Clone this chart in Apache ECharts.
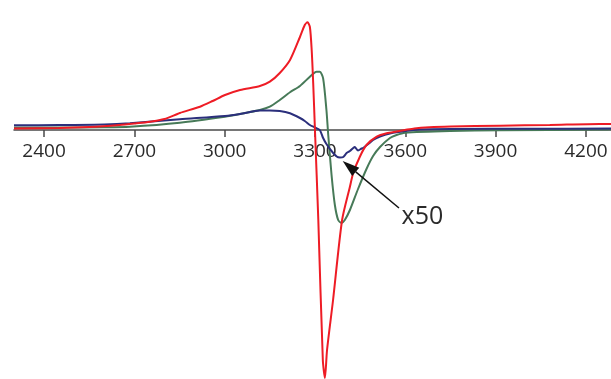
<!DOCTYPE html>
<html>
<head>
<meta charset="utf-8">
<script src="https://cdn.jsdelivr.net/npm/echarts@6/dist/echarts.min.js"></script>
<style>html,body{margin:0;padding:0;background:#fff}#c{width:611px;height:379px}</style>
</head>
<body>
<div id="c"></div>
<script>
// Magnetic field (G) tick labels
const tickLabels = [2400, 2700, 3000, 3300, 3600, 3900, 4200];

// Red spectrum [field, intensity]
const redField = [2300,2450,2550,2650,2700,2752,2800,2851,2918,2960,3001,3051,3117,3150,3183,3217,3250,3266,3275,3283,3289,3294,3300,3311,3326,3333,3340,3360,3390,3416,3427,3449,3471,3505,3538,3571,3599,3630,3680,3750,3914,4080,4246,4300];
const redValue = [1.5,2,3,5,6.5,8.3,11,17,23.3,29,35,40,44,48.3,57,70,93,105,107.7,103,80,47,-1,-90,-230,-248,-220,-170,-90,-56.7,-43,-26.7,-15,-6.7,-3.3,-1.5,0,1.6,2.7,3.4,4.3,5,6,6];

// Green spectrum
const greenField = [2300,2450,2600,2685,2851,3001,3051,3117,3150,3183,3217,3250,3283,3305,3316,3327,3338,3344,3355,3366,3377,3388,3399,3416,3443,3471,3493,3516,3549,3571,3599,3748,3914,4246,4300];
const greenValue = [2.5,2.5,2.7,3.3,7.3,13.3,16,20,23.3,30,37.7,44,53.3,58.3,58.3,51.7,20,-5,-45,-75,-90,-93,-90,-80,-59,-39,-26,-17,-8,-5,-2.7,-1,-0.3,0.5,0.8];

// Blue spectrum (x50)
const blueField = [2300,2450,2600,2685,2851,3001,3051,3117,3150,3183,3217,3250,3266,3283,3300,3316,3327,3338,3355,3372,3383,3394,3405,3416,3427,3432,3443,3455,3460,3477,3493,3516,3549,3599,3648,3750,4000,4300];
const blueValue = [4.7,5,5.5,6.7,10.7,14,16,19.5,19.5,19,16.7,12,9,5,2.5,0,-8,-14,-21,-26.5,-27.5,-27,-23,-21,-18,-17,-20.5,-18.5,-18,-14,-10,-6.5,-3.5,-1,0.5,1,1.2,1.5];

// Annotation (data coordinates)
const annotationText = 'x50';
const arrowFrom = [3579, -78];
const arrowTo = [3392, -31];
const labelAt = [3657, -87];

const zip = (a, b) => a.map((v, i) => [v, b[i]]);

const chart = echarts.init(document.getElementById('c'));
const baseLine = { showSymbol: false, type: 'line', smooth: 0.25, clip: false, animation: false };

chart.setOption({
  animation: false,
  grid: { left: 14, width: 602, top: 0, height: 130, containLabel: false, outerBoundsMode: 'none' },
  xAxis: {
    type: 'value', min: 2300, max: 4300, position: 'bottom',
    axisLine: { onZero: false, lineStyle: { color: '#4a4a4a', width: 1.5 } },
    axisTick: { show: true, customValues: tickLabels, length: 7, lineStyle: { color: '#4a4a4a', width: 1.5 } },
    axisLabel: { customValues: tickLabels, margin: 12, formatter: v => String(v), fontFamily: 'Open Sans', fontSize: 19, color: '#2a2a2a' },
    splitLine: { show: false }
  },
  yAxis: { type: 'value', min: 0, max: 130, show: false },
  series: [
    Object.assign({}, baseLine, { name: 'green', data: zip(greenField, greenValue), lineStyle: { color: '#477a58', width: 2 }, z: 2 }),
    Object.assign({}, baseLine, { name: 'blue', data: zip(blueField, blueValue), lineStyle: { color: '#2b2f7c', width: 2 }, z: 3 }),
    Object.assign({}, baseLine, { name: 'red', data: zip(redField, redValue), lineStyle: { color: '#ee1c25', width: 2 }, z: 4 })
  ]
});

// Annotation arrow + label placed through the chart's own scales
const toPx = p => chart.convertToPixel({ xAxisIndex: 0, yAxisIndex: 0 }, p);
const a = toPx(arrowFrom), b = toPx(arrowTo), t = toPx(labelAt);
const dx = b[0] - a[0], dy = b[1] - a[1], len = Math.hypot(dx, dy);
const ux = dx / len, uy = dy / len, headLen = 17, headHalf = 5.5;
const base = [b[0] - ux * headLen, b[1] - uy * headLen];
chart.setOption({
  graphic: [
    { type: 'line', z: 10, shape: { x1: a[0], y1: a[1], x2: base[0], y2: base[1] }, style: { stroke: '#111', lineWidth: 1.5 } },
    { type: 'polygon', z: 10, shape: { points: [b, [base[0] - uy * headHalf, base[1] + ux * headHalf], [base[0] + uy * headHalf, base[1] - ux * headHalf]] }, style: { fill: '#111' } },
    { type: 'text', z: 10, x: t[0], y: t[1], style: { text: annotationText, fontFamily: 'Open Sans', fontSize: 25, fill: '#2a2a2a', align: 'center', verticalAlign: 'middle' } }
  ]
});
</script>
</body>
</html>
